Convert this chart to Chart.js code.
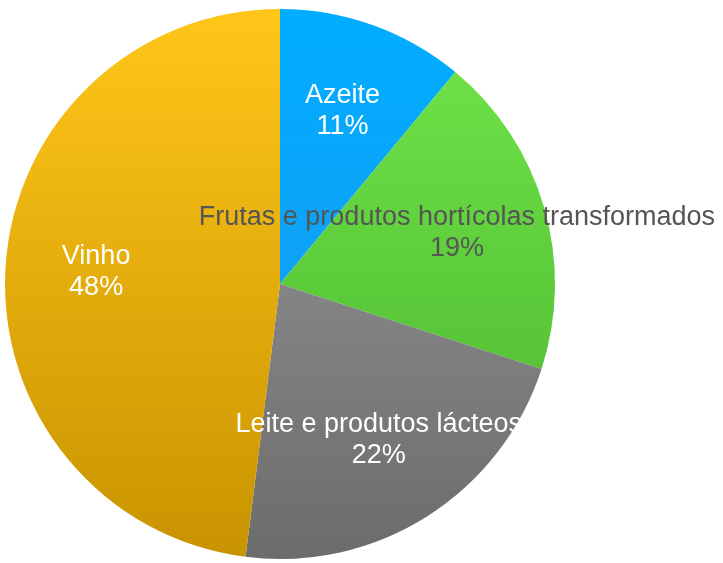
<!DOCTYPE html>
<html>
<head>
<meta charset="utf-8">
<script src="https://cdn.jsdelivr.net/npm/chart.js@4.4.0/dist/chart.umd.min.js"></script>
<style>
  html, body { margin: 0; padding: 0; background: #fff; }
  #wrap { width: 723px; height: 563px; position: relative; }
</style>
</head>
<body>
<div id="wrap"><canvas id="chartPie"></canvas></div>
<script>
// Data
const categorias = ['Azeite', 'Frutas e produtos hortícolas transformados', 'Leite e produtos lácteos', 'Vinho'];
const valores = [11, 19, 22, 48];
const coresTopo = ['#00adff', '#72e64a', '#9d9d9d', '#ffc619'];
const coresBase = ['#1f95ef', '#48b22c', '#6c6c6c', '#c89300'];
const coresTexto = ['#ffffff', '#555555', '#ffffff', '#ffffff'];

// gradiente vertical para cada fatia
function gradiente(context) {
  const chart = context.chart;
  const area = chart.chartArea;
  const i = context.dataIndex;
  if (!area) return coresTopo[i];
  const g = chart.ctx.createLinearGradient(0, area.top, 0, area.bottom);
  g.addColorStop(0, coresTopo[i]);
  g.addColorStop(1, coresBase[i]);
  return g;
}

// rótulos dentro das fatias
const rotulos = {
  id: 'rotulos',
  afterDatasetsDraw(chart) {
    const ctx = chart.ctx;
    const meta = chart.getDatasetMeta(0);
    const total = valores.reduce((a, b) => a + b, 0);
    ctx.save();
    ctx.font = '27px "Liberation Sans", Arial, sans-serif';
    ctx.textAlign = 'center';
    ctx.textBaseline = 'middle';
    meta.data.forEach((arc, i) => {
      const mid = (arc.startAngle + arc.endAngle) / 2;
      const r = arc.outerRadius * 0.67;
      const x = arc.x + Math.cos(mid) * r;
      const y = arc.y + Math.sin(mid) * r;
      const pct = Math.round(valores[i] / total * 100) + '%';
      ctx.fillStyle = coresTexto[i];
      ctx.fillText(categorias[i], x, y - 15.5);
      ctx.fillText(pct, x, y + 15.5);
    });
    ctx.restore();
  }
};

new Chart(document.getElementById('chartPie'), {
  type: 'pie',
  data: {
    labels: categorias,
    datasets: [{
      data: valores,
      backgroundColor: gradiente,
      borderWidth: 0
    }]
  },
  options: {
    responsive: true,
    maintainAspectRatio: false,
    animation: false,
    layout: { padding: { left: 5, right: 168, top: 9, bottom: 4 } },
    plugins: {
      legend: { display: false },
      tooltip: { enabled: false }
    }
  },
  plugins: [rotulos]
});
</script>
</body>
</html>
